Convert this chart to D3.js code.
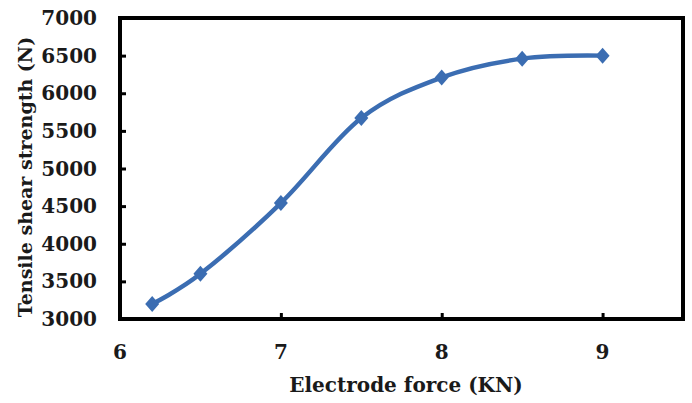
<!DOCTYPE html>
<html>
<head>
<meta charset="utf-8">
<script src="https://cdn.jsdelivr.net/npm/d3@7"></script>
<style>
  body { margin: 0; background: #fff; }
  svg text { font-family: "DejaVu Serif", "Liberation Serif", serif; font-weight: bold; fill: #1a1a1a; }
</style>
</head>
<body>
<svg id="chart" width="692" height="403"></svg>
<script>
// values
const force = [6.2, 6.5, 7, 7.5, 8, 8.5, 9];
const strength = [3200, 3600, 4540, 5670, 6210, 6460, 6500];
const xTicks = [6, 7, 8, 9];
const yTicks = [3000, 3500, 4000, 4500, 5000, 5500, 6000, 6500, 7000];

const svg = d3.select('#chart');
const box = { left: 120, right: 683, top: 18, bottom: 319 };

const x = d3.scaleLinear().domain([6, 9.5]).range([box.left, box.right]);
const y = d3.scaleLinear().domain([3000, 7000]).range([box.bottom, box.top]);

const blue = '#3b6db2';

// frame
svg.append('rect')
    .attr('x', box.left).attr('y', box.top)
    .attr('width', box.right - box.left).attr('height', box.bottom - box.top)
    .attr('fill', 'none').attr('stroke', '#000').attr('stroke-width', 4);

// y axis (ticks inside)
const yAxis = svg.append('g')
    .attr('transform', 'translate(' + box.left + ',0)')
    .call(d3.axisRight(y).tickValues(yTicks).tickSize(6).tickFormat(''));
yAxis.select('.domain').remove();
yAxis.selectAll('line').attr('stroke', '#000').attr('stroke-width', 3);

svg.append('g').selectAll('text')
    .data(yTicks)
    .join('text')
    .attr('x', 97).attr('y', d => y(d))
    .attr('dy', '0.35em')
    .attr('text-anchor', 'end')
    .style('font-size', '20px')
    .text(d => d);

// x axis (ticks inside)
const xAxis = svg.append('g')
    .attr('transform', 'translate(0,' + box.bottom + ')')
    .call(d3.axisTop(x).tickValues(xTicks.slice(1)).tickSize(6).tickFormat(''));
xAxis.select('.domain').remove();
xAxis.selectAll('line').attr('stroke', '#000').attr('stroke-width', 3);

svg.append('g').selectAll('text')
    .data(xTicks)
    .join('text')
    .attr('x', d => x(d)).attr('y', 352)
    .attr('dy', '0.35em')
    .attr('text-anchor', 'middle')
    .style('font-size', '20px')
    .text(d => d);

// axis titles
svg.append('text')
    .attr('x', 406).attr('y', 385)
    .attr('dy', '0.35em')
    .attr('text-anchor', 'middle')
    .style('font-size', '20px')
    .text('Electrode force (KN)');

svg.append('text')
    .attr('transform', 'translate(25,177) rotate(-90)')
    .attr('dy', '0.35em')
    .attr('text-anchor', 'middle')
    .style('font-size', '19px')
    .text('Tensile shear strength (N)');

// smoothed line
const pts = force.map((f, i) => [f, strength[i]]);
const line = d3.line()
    .x(d => x(d[0]))
    .y(d => y(d[1]))
    .curve(d3.curveCardinal.tension(0));

svg.append('path')
    .datum(pts)
    .attr('d', line)
    .attr('fill', 'none')
    .attr('stroke', blue)
    .attr('stroke-width', 4.5);

// diamond markers
svg.append('g').selectAll('path')
    .data(pts)
    .join('path')
    .attr('transform', d => 'translate(' + x(d[0]) + ',' + y(d[1]) + ')')
    .attr('d', 'M0,-8L7,0L0,8L-7,0Z')
    .attr('fill', blue);
</script>
</body>
</html>
